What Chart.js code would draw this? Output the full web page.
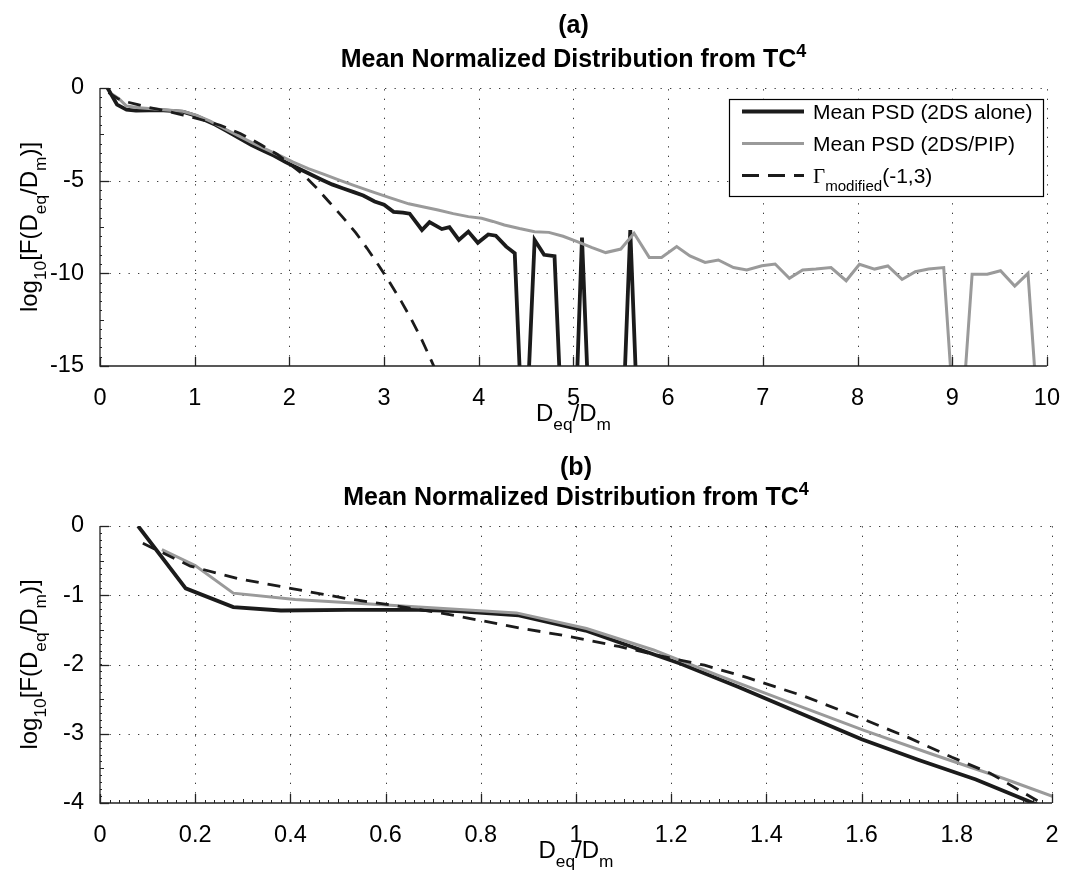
<!DOCTYPE html>
<html><head><meta charset="utf-8">
<script src="https://cdn.jsdelivr.net/npm/chart.js@4"></script>
<style>
html,body{margin:0;padding:0;background:#fff;}
#wrap{position:relative;width:1070px;height:871px;}
canvas{position:absolute;left:0;}
</style></head>
<body><div id="wrap">
<canvas id="c1" width="1070" height="435" style="top:0"></canvas>
<canvas id="c2" width="1070" height="436" style="top:435px"></canvas>
</div>
<script>
// ---- data ----
const blackX = [0.08,0.18,0.28,0.38,0.52,0.67,0.75,0.88,1.02,1.12,1.22,1.34,1.47,1.60,1.72,1.84,1.96,2.08,2.20,2.33,2.45,2.57,2.68,2.78,2.90,3.00,3.10,3.20,3.27,3.40,3.48,3.61,3.69,3.79,3.89,3.99,4.10,4.18,4.29,4.38,4.48,4.59,4.69,4.80,4.90,5.00,5.09,5.19,5.30,5.40,5.50,5.60,5.70,5.80];
const blackY = [0,-0.90,-1.17,-1.22,-1.21,-1.21,-1.23,-1.29,-1.51,-1.75,-1.99,-2.32,-2.70,-3.08,-3.38,-3.66,-4.00,-4.30,-4.60,-4.92,-5.20,-5.42,-5.62,-5.80,-6.12,-6.30,-6.68,-6.72,-6.78,-7.66,-7.24,-7.61,-7.51,-8.20,-7.75,-8.35,-7.90,-7.97,-8.56,-8.92,-21,-8.20,-9.00,-9.07,-21,-21,-8.07,-21,-21,-21,-21,-7.66,-21,-21];
const grayX = [0.13,0.20,0.28,0.41,0.55,0.67,0.875,1.022,1.163,1.30,1.45,1.605,1.75,1.90,2.04,2.20,2.36,2.52,2.68,2.87,3.05,3.26,3.42,3.57,3.73,3.89,4.03,4.15,4.27,4.43,4.59,4.74,4.89,5.04,5.19,5.34,5.50,5.64,5.80,5.93,6.09,6.23,6.39,6.53,6.69,6.83,6.99,7.13,7.28,7.42,7.56,7.72,7.88,8.02,8.18,8.32,8.47,8.61,8.75,8.91,9.06,9.21,9.37,9.51,9.66,9.80,9.95];
const grayY = [-0.34,-0.57,-0.97,-1.06,-1.12,-1.17,-1.255,-1.48,-1.79,-2.16,-2.55,-2.95,-3.30,-3.65,-4.00,-4.35,-4.65,-4.96,-5.25,-5.59,-5.90,-6.25,-6.42,-6.58,-6.78,-6.94,-7.03,-7.20,-7.39,-7.58,-7.75,-7.79,-8.00,-8.29,-8.60,-8.88,-8.69,-7.84,-9.14,-9.14,-8.56,-9.06,-9.41,-9.28,-9.69,-9.82,-9.59,-9.50,-10.27,-9.82,-9.77,-9.69,-10.40,-9.51,-9.77,-9.60,-10.33,-9.91,-9.77,-9.69,-21,-10.05,-10.05,-9.86,-10.69,-10.00,-21];
const gammaX = [0.09,0.19,0.29,0.40,0.52,0.62,0.72,0.88,0.99,1.09,1.20,1.27,1.36,1.48,1.60,1.70,1.79,1.87,1.97,2.14,2.28,2.42,2.56,2.70,2.82,2.94,3.06,3.18,3.29,3.40,3.48,3.56,3.65];
const gammaY = [-0.25,-0.58,-0.76,-0.90,-1.05,-1.15,-1.26,-1.47,-1.60,-1.74,-1.91,-2.01,-2.19,-2.46,-2.78,-3.06,-3.34,-3.57,-3.97,-4.65,-5.35,-6.15,-6.95,-7.80,-8.65,-9.55,-10.5,-11.5,-12.5,-13.6,-14.5,-15.4,-16.5];
const seriesNames = ['Mean PSD (2DS alone)','Mean PSD (2DS/PIP)'];
const panelLabels = ['(a)','(b)'];
const titleText = 'Mean Normalized Distribution from TC';
const titleSup = '4';
const xTicksA = {min:0,max:10,step:1};
const yTicksA = {min:-15,max:0,step:5};
const xTicksB = {min:0,max:2,step:0.2};
const yTicksB = {min:-4,max:0,step:1};

const FF = '"Liberation Sans", Arial, Helvetica, sans-serif';
const SERIF = '"Liberation Serif", "Times New Roman", serif';
const C_BLACK = '#1b1b1b', C_GRAY = '#9a9a9a';
const TICK_SIZE = 23.5, LABEL_SIZE = 24, TITLE_SIZE = 25, LEGEND_SIZE = 21;

function pts(xs, ys){ return xs.map((x,i)=>({x:x,y:ys[i]})); }

function fontFor(p,size){ const s = p.s ? size*0.72 : size; return (p.b?'bold ':'') + s.toFixed(1) + 'px ' + (p.f||FF); }
function richWidth(ctx, parts, size){ let w=0; for(const p of parts){ ctx.font=fontFor(p,size); w+=ctx.measureText(p.t).width; } return w; }
function drawRich(ctx, parts, x, y, size, align){
  const w = richWidth(ctx, parts, size);
  let cx = align==='center' ? x-w/2 : (align==='right' ? x-w : x);
  ctx.textAlign='left'; ctx.textBaseline='alphabetic'; ctx.fillStyle='#000';
  for(const p of parts){
    ctx.font=fontFor(p,size);
    const dy = p.s===1 ? size*0.36 : (p.s===-1 ? -size*0.42 : 0);
    ctx.fillText(p.t, cx, y+dy);
    cx += ctx.measureText(p.t).width;
  }
}

const xLabelParts = [{t:'D'},{t:'eq',s:1},{t:'/D'},{t:'m',s:1}];
const yLabelParts = [{t:'log'},{t:'10',s:1},{t:'[F(D'},{t:'eq',s:1},{t:'/D'},{t:'m',s:1},{t:')]'}];

const deco = {
  id:'deco',
  beforeDatasetsDraw(chart){
    const c = chart.options.plugins.deco; const ctx = chart.ctx; const a = chart.chartArea;
    const xs = chart.scales.x, ys = chart.scales.y;
    ctx.save();
    ctx.strokeStyle='#3a3a3a'; ctx.lineWidth=1; ctx.setLineDash([1.3,8.2]);
    for(let v=c.xt.min+c.xt.step; v<=c.xt.max+1e-9; v+=c.xt.step){
      const px = Math.round(xs.getPixelForValue(v))+0.5;
      ctx.beginPath(); ctx.moveTo(px,a.bottom); ctx.lineTo(px,a.top); ctx.stroke();
    }
    for(let v=c.yt.min+c.yt.step; v<=c.yt.max+1e-9; v+=c.yt.step){
      const py = Math.round(ys.getPixelForValue(v))+0.5;
      ctx.beginPath(); ctx.moveTo(a.left,py); ctx.lineTo(a.right,py); ctx.stroke();
    }
    ctx.restore();
  },
  afterDatasetsDraw(chart){
    const c = chart.options.plugins.deco; const ctx = chart.ctx; const a = chart.chartArea;
    const xs = chart.scales.x, ys = chart.scales.y;
    ctx.save();
    ctx.strokeStyle='#222'; ctx.lineWidth=1.3; ctx.setLineDash([]);
    ctx.beginPath(); ctx.moveTo(a.left,a.top); ctx.lineTo(a.left,a.bottom); ctx.lineTo(a.right,a.bottom); ctx.stroke();
    ctx.lineWidth=1;
    for(const m of c.minorX){
      for(let v=c.xt.min; v<=c.xt.max+1e-9; v+=m.step){
        const px=Math.round(xs.getPixelForValue(v))+0.5;
        ctx.beginPath(); ctx.moveTo(px,a.bottom); ctx.lineTo(px,a.bottom-m.len); ctx.stroke();
      }
    }
    for(const m of c.minorY){
      for(let v=c.yt.min; v<=c.yt.max+1e-9; v+=m.step){
        const py=Math.round(ys.getPixelForValue(v))+0.5;
        ctx.beginPath(); ctx.moveTo(a.left,py); ctx.lineTo(a.left+m.len,py); ctx.stroke();
      }
    }
    ctx.lineWidth=1.3;
    for(let v=c.xt.min; v<=c.xt.max+1e-9; v+=c.xt.step){
      const px=Math.round(xs.getPixelForValue(v))+0.5;
      ctx.beginPath(); ctx.moveTo(px,a.bottom); ctx.lineTo(px,a.bottom-9); ctx.stroke();
    }
    for(let v=c.yt.min; v<=c.yt.max+1e-9; v+=c.yt.step){
      const py=Math.round(ys.getPixelForValue(v))+0.5;
      ctx.beginPath(); ctx.moveTo(a.left,py); ctx.lineTo(a.left+9,py); ctx.stroke();
    }
    if(c.legend){
      const L = c.legend;
      ctx.fillStyle='#fff'; ctx.fillRect(L.x,L.y,L.w,L.h);
      ctx.strokeStyle='#000'; ctx.lineWidth=1.2; ctx.strokeRect(L.x+0.5,L.y+0.5,L.w,L.h);
      const ds = chart.data.datasets;
      const order = [2,1,0];
      const rows = [
        [{t:seriesNames[0]}],
        [{t:seriesNames[1]}],
        [{t:'Γ',f:SERIF},{t:'modified',s:1},{t:'(-1,3)'}]
      ];
      order.forEach((di,r)=>{
        const d = ds[di]; const yy = L.y + 12.5 + r*32;
        ctx.strokeStyle=d.borderColor; ctx.lineWidth=d.borderWidth; ctx.setLineDash(di===0?[17,9]:[]);
        ctx.beginPath(); ctx.moveTo(L.x+13,yy); ctx.lineTo(L.x+75,yy); ctx.stroke();
        ctx.setLineDash([]);
        drawRich(ctx, rows[r], L.x+84, yy+7.5, LEGEND_SIZE, 'left');
      });
    }
    ctx.restore();
  },
  afterDraw(chart){
    const c = chart.options.plugins.deco; const ctx = chart.ctx; const a = chart.chartArea;
    ctx.save();
    const cx = (a.left+a.right)/2;
    drawRich(ctx,[{t:c.panel,b:1}], cx, c.panelY, TITLE_SIZE, 'center');
    drawRich(ctx,[{t:titleText,b:1},{t:titleSup,b:1,s:-1}], cx, c.titleY, TITLE_SIZE, 'center');
    drawRich(ctx, xLabelParts, cx, a.bottom+c.xlabOff, LABEL_SIZE, 'center');
    ctx.translate(37,(a.top+a.bottom)/2); ctx.rotate(-Math.PI/2);
    drawRich(ctx, yLabelParts, 0, 0, LABEL_SIZE, 'center');
    ctx.restore();
  }
};

function fmt(v){ return String(+(+v).toFixed(2)); }

function makeChart(id, cfg){
  return new Chart(document.getElementById(id), {
    type:'line',
    data:{datasets:[
      {data:pts(gammaX,gammaY), borderColor:C_BLACK, borderWidth:2.8, borderDash:[13,9], pointRadius:0, tension:0, clip:0},
      {data:pts(grayX,grayY), borderColor:C_GRAY, borderWidth:3, pointRadius:0, tension:0, clip:0},
      {data:pts(blackX,blackY), borderColor:C_BLACK, borderWidth:3.8, pointRadius:0, tension:0, clip:0}
    ]},
    options:{
      responsive:false, animation:false, events:[],
      layout:{padding:{left:0,right:18,top:cfg.top,bottom:0}},
      plugins:{legend:{display:false}, tooltip:{enabled:false}, deco:cfg.deco},
      scales:{
        x:{type:'linear', min:cfg.xt.min, max:cfg.xt.max,
           ticks:{stepSize:cfg.xt.step, color:'#000', font:{family:FF,size:TICK_SIZE}, padding:10, maxRotation:0, autoSkip:false, callback:fmt},
           grid:{display:false}, border:{display:false},
           afterFit(s){ s.height = cfg.xh; }},
        y:{type:'linear', min:cfg.yt.min, max:cfg.yt.max,
           ticks:{stepSize:cfg.yt.step, color:'#000', font:{family:FF,size:TICK_SIZE}, padding:8, autoSkip:false, callback:fmt},
           grid:{display:false}, border:{display:false},
           afterFit(s){ s.width = 100; }}
      }
    },
    plugins:[deco]
  });
}

makeChart('c1',{top:88, xh:69, xt:xTicksA, yt:yTicksA,
  deco:{panel:panelLabels[0], panelY:33, titleY:67, xlabOff:55, xt:xTicksA, yt:yTicksA,
        minorX:[], minorY:[{step:0.5,len:2},{step:2.5,len:4}],
        legend:{x:729,y:99,w:314,h:97}}});
makeChart('c2',{top:91, xh:68, xt:xTicksB, yt:yTicksB,
  deco:{panel:panelLabels[1], panelY:40, titleY:70, xlabOff:55, xt:xTicksB, yt:yTicksB,
        minorX:[{step:0.02,len:3},{step:0.1,len:4}], minorY:[{step:0.1,len:2},{step:0.5,len:4}],
        legend:null}});
</script>
</body></html>
